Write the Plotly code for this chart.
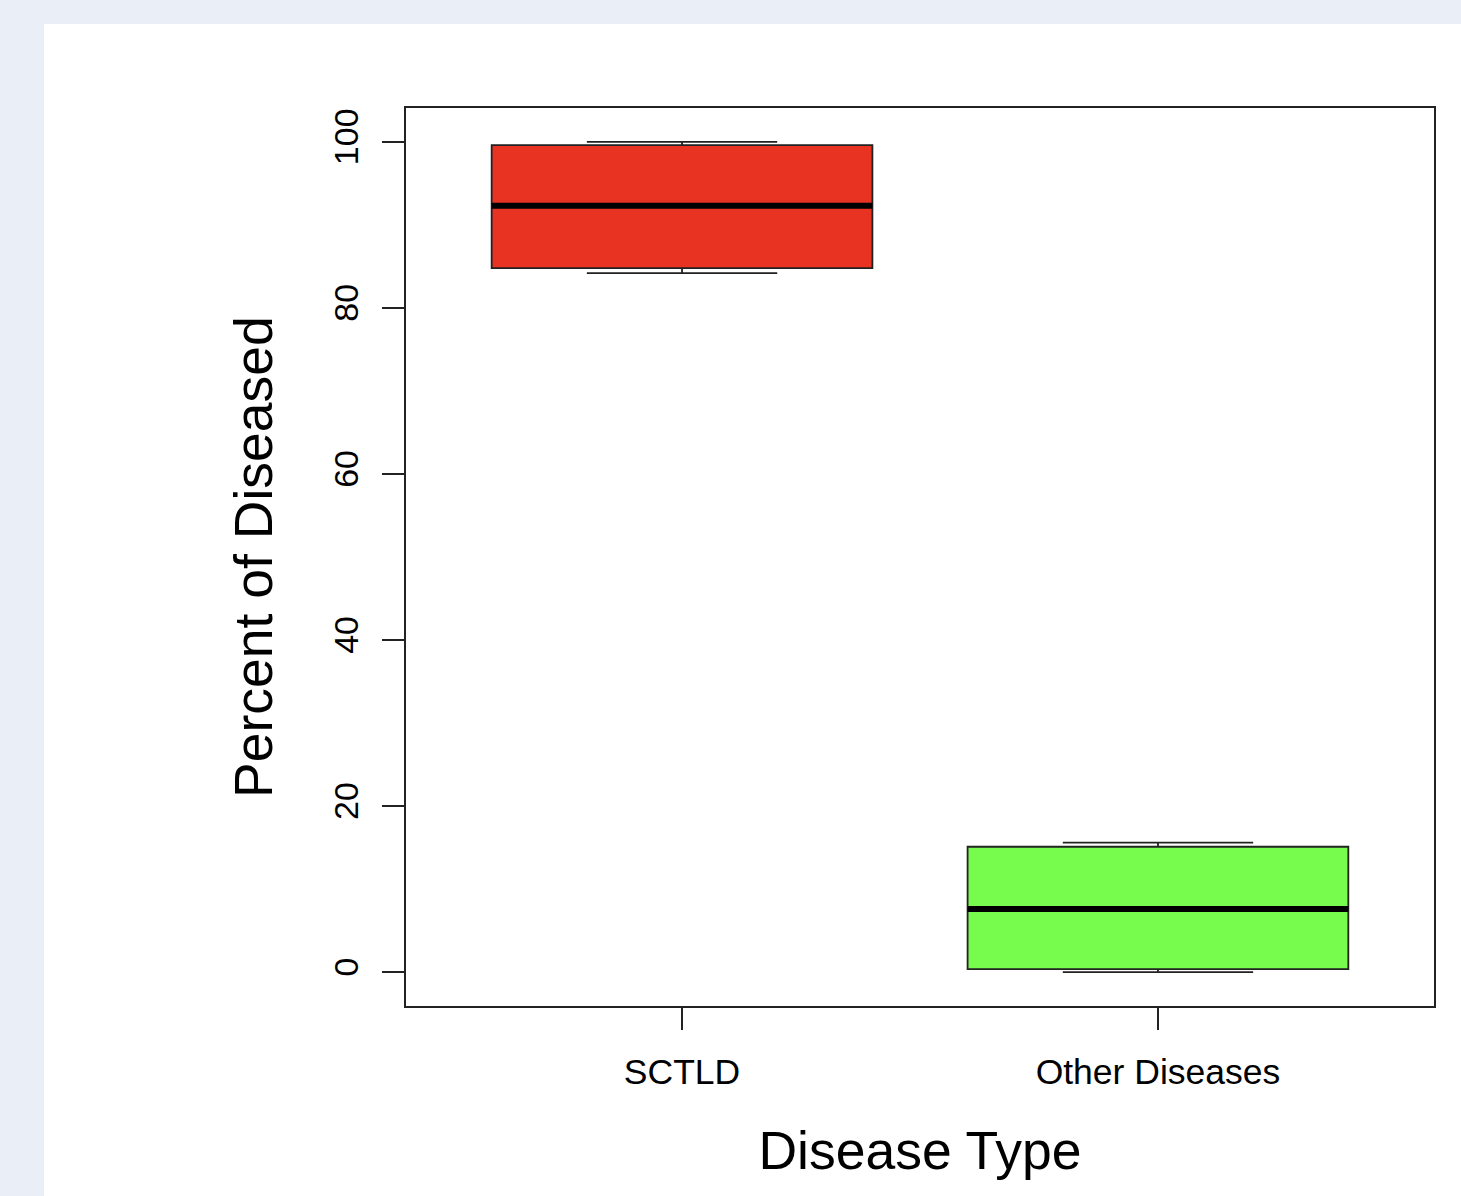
import plotly.graph_objects as go

categories = ["SCTLD", "Other Diseases"]
positions = [1, 2]
lower_whisker = [84.2, 0.0]
q1 = [84.8, 0.35]
median = [92.3, 7.6]
q3 = [99.6, 15.1]
upper_whisker = [100.0, 15.6]
fill_colors = ["#E83323", "#77FB4D"]
y_ticks = [0, 20, 40, 60, 80, 100]

W, H = 1461, 1196
L, R, T, B = 406, 27, 108, 190
pw, ph = W - L - R, H - T - B
box_w = 0.8

fig = go.Figure()
for i in range(len(categories)):
    fig.add_trace(go.Box(
        x=[positions[i]],
        q1=[q1[i]], median=[median[i]], q3=[q3[i]],
        lowerfence=[lower_whisker[i]], upperfence=[upper_whisker[i]],
        width=box_w, whiskerwidth=0.5,
        fillcolor=fill_colors[i],
        line=dict(color="#222222", width=1.8),
        boxpoints=False, showlegend=False, hoverinfo="skip",
    ))
    fig.add_trace(go.Scatter(
        x=[positions[i] - box_w / 2, positions[i] + box_w / 2],
        y=[median[i], median[i]],
        mode="lines", line=dict(color="black", width=6),
        showlegend=False, hoverinfo="skip",
    ))

# white panel on light blue page background
fig.add_shape(
    type="rect", xref="paper", yref="paper", layer="below",
    x0=(44 - L) / pw, x1=(W + 5 - L) / pw,
    y0=-(B + 5) / ph, y1=1 + (T - 24) / ph,
    fillcolor="white", line=dict(width=0),
)

fig.update_layout(
    width=W, height=H,
    margin=dict(l=L, r=R, t=T, b=B),
    paper_bgcolor="#EAEFF7",
    plot_bgcolor="white",
    font=dict(family="Liberation Sans, Arial, sans-serif", color="black"),
    xaxis=dict(
        range=[0.42, 2.58], tickvals=positions, ticktext=categories,
        showgrid=False, zeroline=False,
        showline=True, mirror=True, linecolor="#222222", linewidth=1.5,
        ticks="outside", ticklen=22, tickwidth=1.5, tickcolor="#222222",
        tickfont=dict(size=35.5), ticklabelstandoff=12,
        title=dict(text="Disease Type", font=dict(size=53.5), standoff=40),
    ),
    yaxis=dict(
        range=[-4.08, 104.08], tickvals=y_ticks,
        showgrid=False, zeroline=False,
        showline=True, mirror=True, linecolor="#222222", linewidth=1.5,
        ticks="outside", ticklen=22, tickwidth=1.5, tickcolor="#222222",
        tickfont=dict(size=34), tickangle=-90, ticklabelstandoff=11,
        title=dict(text="Percent of Diseased", font=dict(size=53.5), standoff=37),
    ),
)

fig.write_html(
    "out.html",
    config={"displayModeBar": False},
    post_script="document.body.style.margin='0';document.body.style.overflow='hidden';",
)
